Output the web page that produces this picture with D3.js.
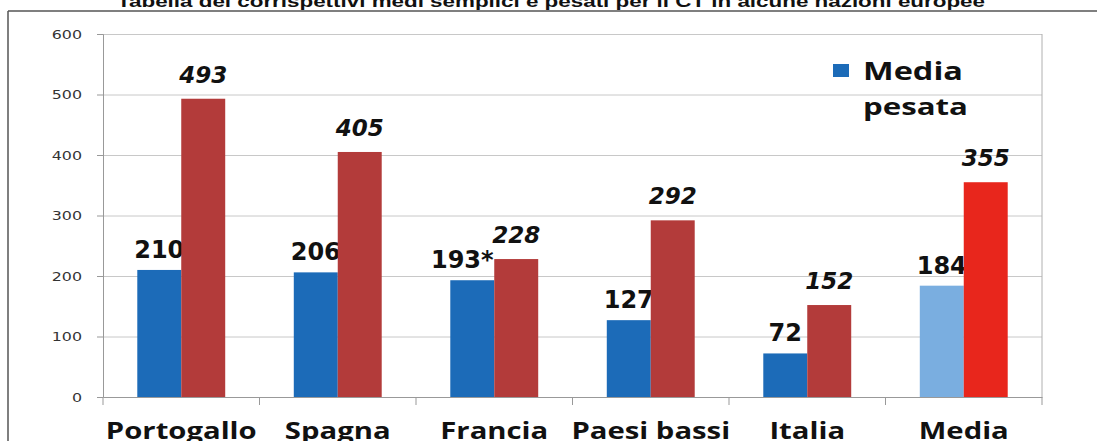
<!DOCTYPE html>
<html>
<head>
<meta charset="utf-8">
<script src="https://cdn.jsdelivr.net/npm/d3@7"></script>
<style>
  body { margin: 0; background: #fff; }
  svg { display: block; }
  .tick text { font-family: "DejaVu Sans", sans-serif; font-size: 13px; fill: #333; }
  .grid line { stroke: #c8c8c8; }
  .grid .domain { display: none; }
</style>
</head>
<body>
<div id="chart"></div>
<script>
// chart data
var paesi = ["Portogallo", "Spagna", "Francia", "Paesi bassi", "Italia", "Media"];
var mediaSemplice = [210, 206, 193, 127, 72, 184];
var mediaPesata = [493, 405, 228, 292, 152, 355];
var note = ["", "", "*", "", "", ""];
var yTicks = [0, 100, 200, 300, 400, 500, 600];
var serie = ["semplice", "pesata"];
var titolo = "Tabella dei corrispettivi medi semplici e pesati per il CT in alcune nazioni europee";

var W = 1097, H = 441;
var margin = {top: 34, right: 55, bottom: 44, left: 103};
// the scan is stretched sideways, text is widened to match
var stretch = 1.22;

var svg = d3.select("#chart").append("svg")
    .attr("width", W)
    .attr("height", H);

// title, cut at the top like in the scan
svg.append("text")
    .attr("x", 551)
    .attr("y", 7)
    .attr("text-anchor", "middle")
    .attr("textLength", 868)
    .attr("lengthAdjust", "spacingAndGlyphs")
    .style("font-family", "Liberation Sans, Arial, sans-serif")
    .style("font-weight", "bold")
    .style("font-size", "17px")
    .style("fill", "#111")
    .text(titolo);

// outer frame
svg.append("line").attr("x1", 8).attr("x2", W).attr("y1", 11).attr("y2", 11)
    .attr("stroke", "#555").attr("stroke-width", 1.5);
svg.append("line").attr("x1", 8).attr("x2", 8).attr("y1", 11).attr("y2", H)
    .attr("stroke", "#555").attr("stroke-width", 1.5);

var x0 = d3.scaleBand()
    .domain(paesi)
    .range([margin.left, W - margin.right])
    .padding(0);

var x1 = d3.scaleBand()
    .domain(serie)
    .range([0, x0.bandwidth()])
    .paddingInner(0)
    .paddingOuter(0.78);

var y = d3.scaleLinear()
    .domain([0, 600])
    .range([H - margin.bottom, margin.top]);

// gridlines
svg.append("g")
    .attr("class", "grid")
    .attr("transform", "translate(" + margin.left + ",0)")
    .call(d3.axisLeft(y).tickValues(yTicks.slice(1)).tickSize(-(W - margin.right - margin.left)).tickFormat(""));

// right edge of plot area
svg.append("line")
    .attr("x1", W - margin.right).attr("x2", W - margin.right)
    .attr("y1", y(600)).attr("y2", y(0))
    .attr("stroke", "#b0b0b0");

// y axis
var yAxis = svg.append("g")
    .attr("transform", "translate(" + margin.left + ",0)")
    .call(d3.axisLeft(y).tickValues(yTicks).tickSize(6).tickPadding(17));
yAxis.select(".domain").attr("stroke", "#999");
yAxis.selectAll(".tick line").attr("stroke", "#999");
yAxis.selectAll(".tick text")
    .attr("x", null)
    .attr("transform", "translate(-21,0) scale(" + stretch + ",1)");

// x axis: ticks at category boundaries
var xAxis = svg.append("g")
    .attr("transform", "translate(0," + y(0) + ")")
    .call(d3.axisBottom(x0).tickSize(0).tickFormat(""));
xAxis.select(".domain").attr("stroke", "#999");
var confini = paesi.map(function(p){ return x0(p); }).concat([x0(paesi[paesi.length - 1]) + x0.bandwidth()]);
xAxis.selectAll(".confine")
    .data(confini)
    .enter()
    .append("line")
    .attr("x1", function(d){ return d; })
    .attr("x2", function(d){ return d; })
    .attr("y1", 0)
    .attr("y2", 8)
    .attr("stroke", "#999");

// category labels
svg.append("g").selectAll("text")
    .data(paesi)
    .enter()
    .append("text")
    .attr("transform", function(d){
        return "translate(" + (x0(d) + x0.bandwidth() / 2) + ",439) scale(" + stretch + ",1)";
    })
    .attr("text-anchor", "middle")
    .style("font-family", "Open Sans, sans-serif")
    .style("font-weight", "bold")
    .style("font-size", "24px")
    .style("fill", "#111")
    .text(function(d){ return d; });

function coloreSemplice(i){ return paesi[i] == "Media" ? "#7aaee0" : "#1c6bb8"; }
function colorePesata(i){ return paesi[i] == "Media" ? "#e8261c" : "#b33b3a"; }

// blue bars (media semplice)
svg.append("g").selectAll("rect")
    .data(mediaSemplice)
    .enter()
    .append("rect")
    .attr("x", function(d, i){ return x0(paesi[i]) + x1("semplice"); })
    .attr("y", function(d){ return y(d); })
    .attr("width", x1.bandwidth())
    .attr("height", function(d){ return y(0) - y(d); })
    .attr("fill", function(d, i){ return coloreSemplice(i); });

// blue labels
svg.append("g").selectAll("text")
    .data(mediaSemplice)
    .enter()
    .append("text")
    .attr("x", function(d, i){ return x0(paesi[i]) + x1("semplice") + x1.bandwidth() / 2 - (note[i] ? 10 : 0); })
    .attr("y", function(d){ return y(d) - 12; })
    .attr("text-anchor", "middle")
    .style("font-family", "DejaVu Sans, sans-serif")
    .style("font-weight", "bold")
    .style("font-size", "24px")
    .style("fill", "#111")
    .text(function(d, i){ return d + note[i]; });

// red bars (media pesata)
svg.append("g").selectAll("rect")
    .data(mediaPesata)
    .enter()
    .append("rect")
    .attr("x", function(d, i){ return x0(paesi[i]) + x1("pesata"); })
    .attr("y", function(d){ return y(d); })
    .attr("width", x1.bandwidth())
    .attr("height", function(d){ return y(0) - y(d); })
    .attr("fill", function(d, i){ return colorePesata(i); });

// red labels
svg.append("g").selectAll("text")
    .data(mediaPesata)
    .enter()
    .append("text")
    .attr("x", function(d, i){ return x0(paesi[i]) + x1("pesata") + x1.bandwidth() / 2; })
    .attr("y", function(d){ return y(d) - 16; })
    .attr("text-anchor", "middle")
    .style("font-family", "DejaVu Sans, sans-serif")
    .style("font-weight", "bold")
    .style("font-style", "italic")
    .style("font-size", "23px")
    .style("fill", "#111")
    .text(function(d){ return d; });

// legend (only one entry visible in the original)
var legend = svg.append("g").attr("transform", "translate(833,64)");
legend.append("rect")
    .attr("width", 16).attr("height", 13)
    .attr("fill", "#1c6bb8");
legend.append("text")
    .attr("transform", "translate(30,16) scale(1.3,1)")
    .style("font-family", "Open Sans, sans-serif")
    .style("font-weight", "bold")
    .style("font-size", "25px")
    .style("fill", "#111")
    .text("Media");
legend.append("text")
    .attr("transform", "translate(30,51) scale(1.3,1)")
    .style("font-family", "Open Sans, sans-serif")
    .style("font-weight", "bold")
    .style("font-size", "24px")
    .style("fill", "#111")
    .text("pesata");
</script>
</body>
</html>
